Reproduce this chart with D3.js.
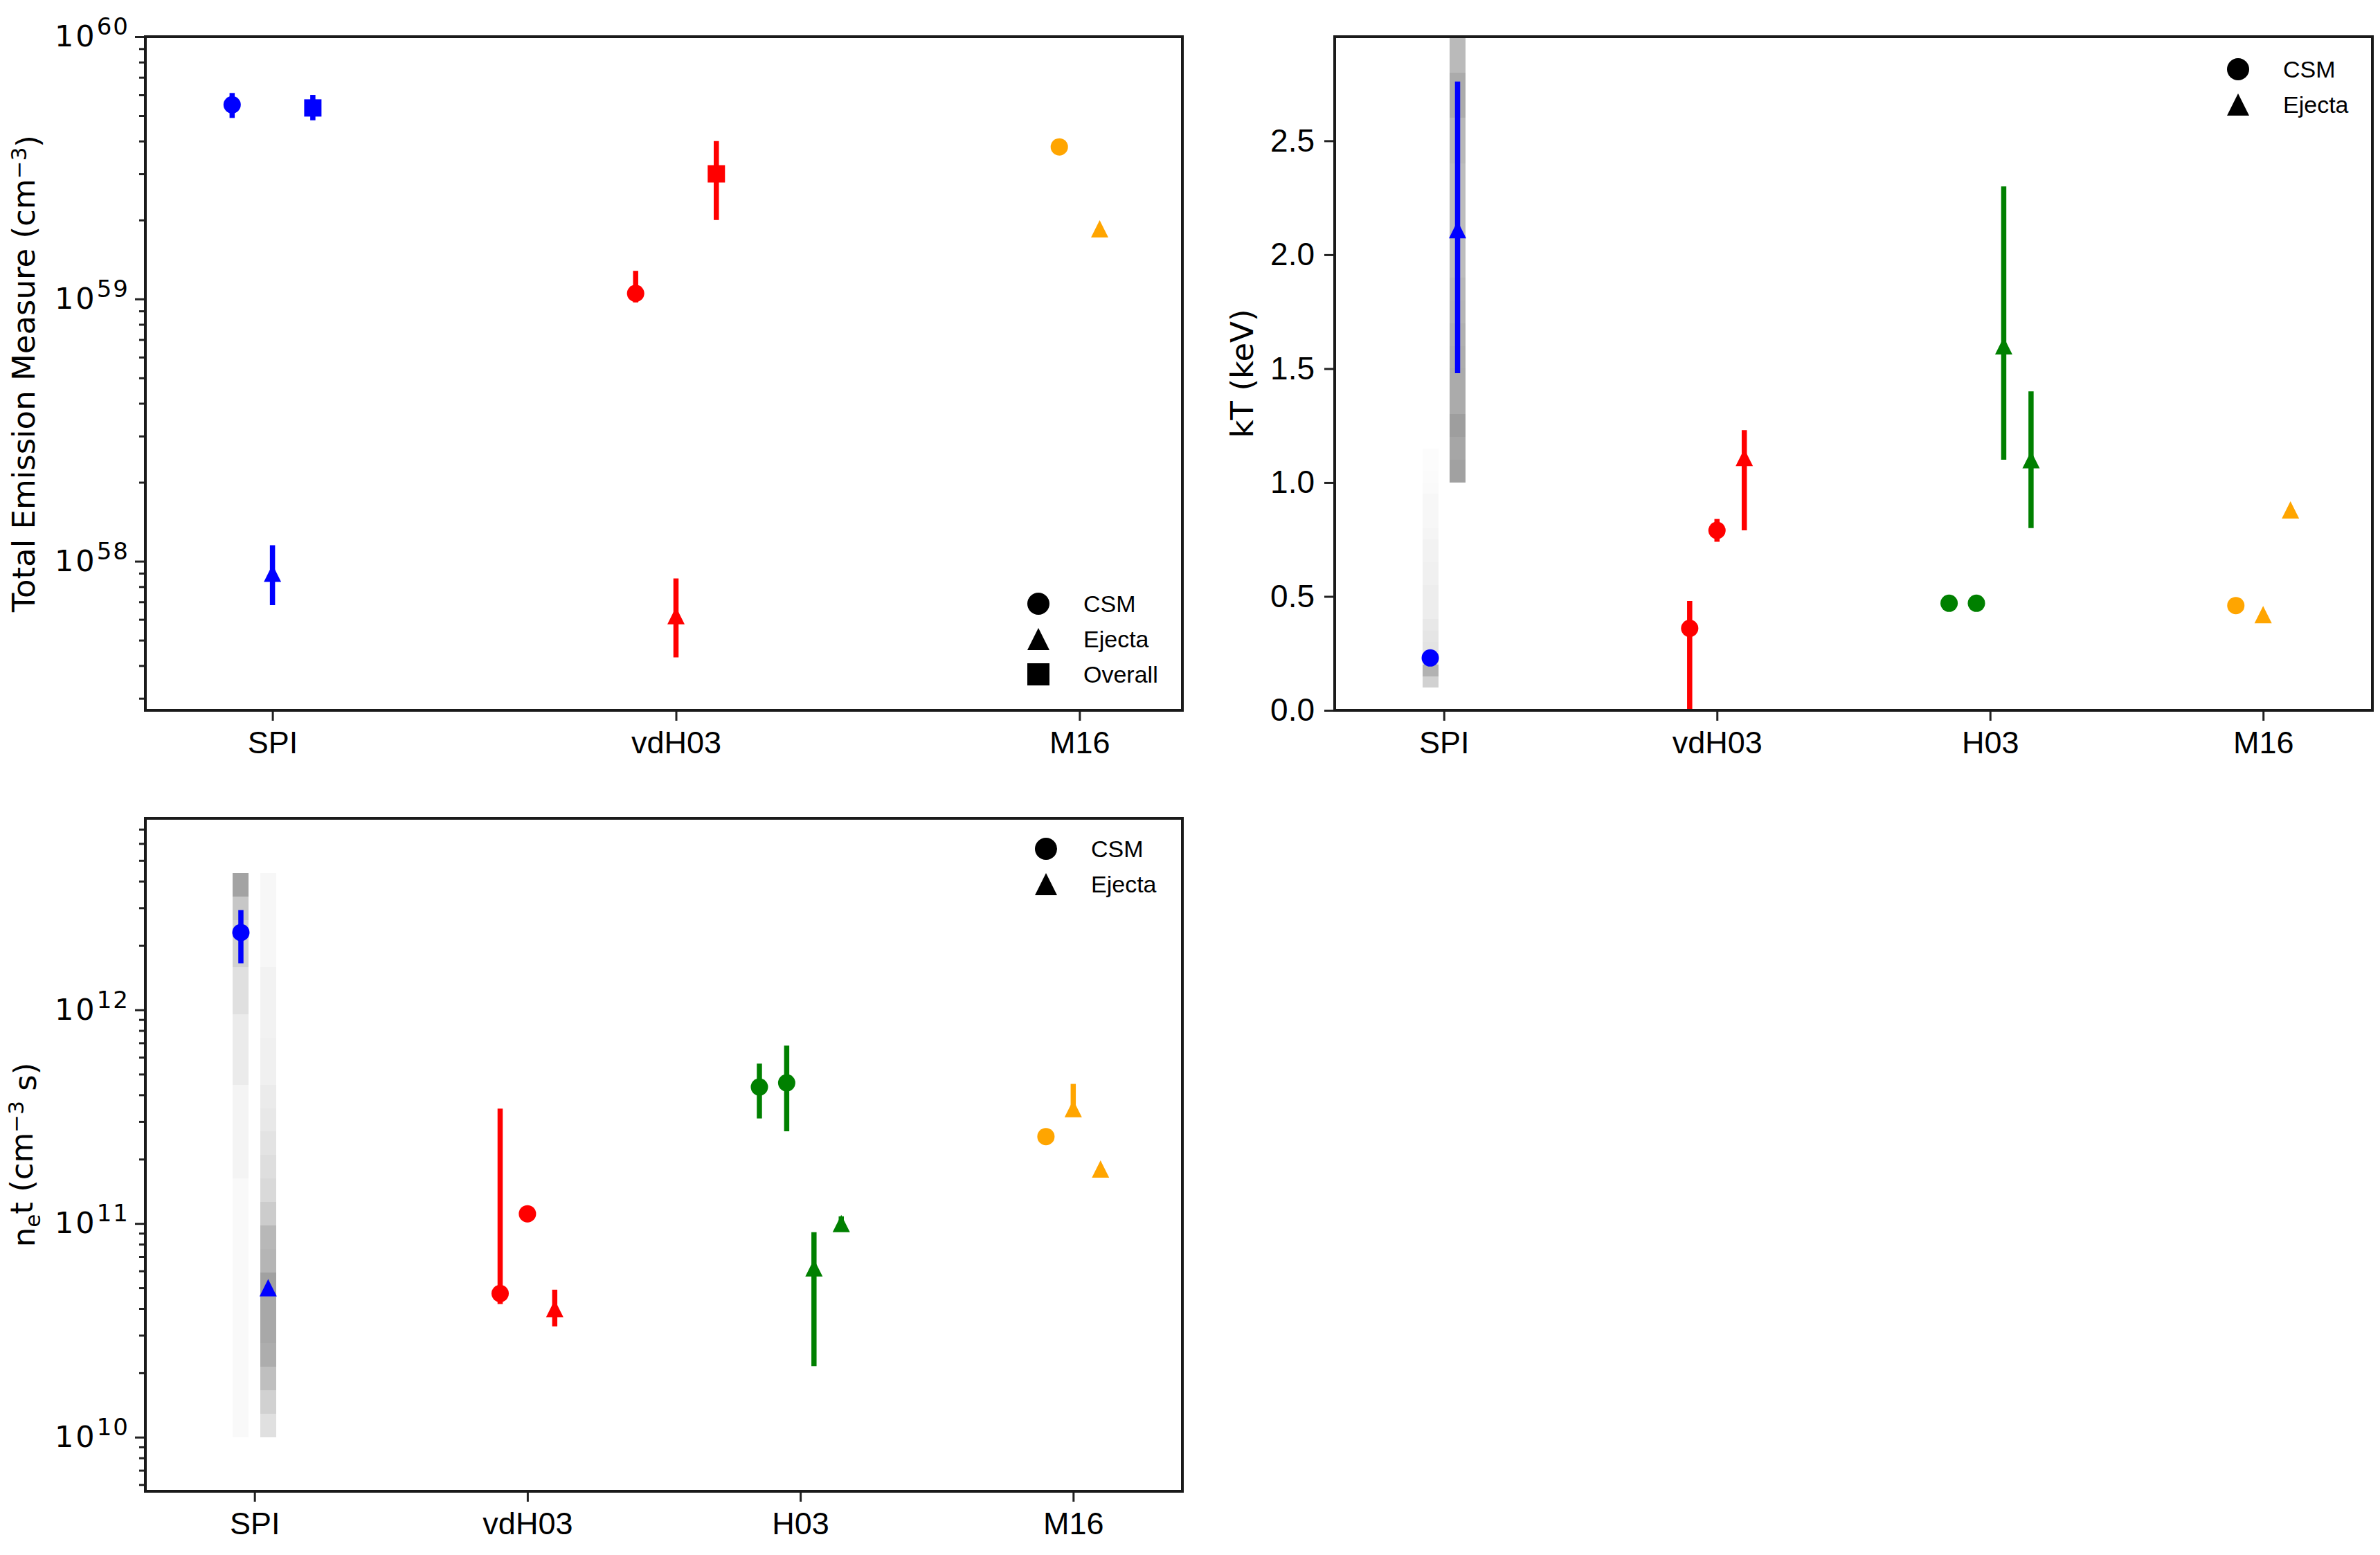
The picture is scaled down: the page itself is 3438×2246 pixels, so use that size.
<!DOCTYPE html>
<html>
<head>
<meta charset="utf-8">
<script src="https://cdn.jsdelivr.net/npm/d3@7"></script>
<style>
  body { margin: 0; background: #fff; }
</style>
</head>
<body>
<div id="fig"></div>
<script>
// ---------------- data ----------------
// rows: [category, component, value, lower bound, upper bound] (null = no error bar)

// Total emission measure (cm^-3)
const emCategories = ["SPI", "vdH03", "M16"];
const emRows = [
  ["SPI",   "CSM",     5.5e59,  4.9e59,  6.1e59],
  ["SPI",   "Ejecta",  9.0e57,  6.8e57,  1.15e58],
  ["SPI",   "Overall", 5.35e59, 4.8e59,  6.0e59],
  ["vdH03", "CSM",     1.05e59, 0.97e59, 1.28e59],
  ["vdH03", "Ejecta",  6.2e57,  4.3e57,  8.6e57],
  ["vdH03", "Overall", 3.0e59,  2.0e59,  4.0e59],
  ["M16",   "CSM",     3.8e59,  null,    null],
  ["M16",   "Ejecta",  1.85e59, null,    null]
];

// kT (keV)
const ktCategories = ["SPI", "vdH03", "H03", "M16"];
const ktRows = [
  ["SPI",   "CSM",    0.23, null, null],
  ["SPI",   "Ejecta", 2.11, 1.48, 2.76],
  ["vdH03", "CSM",    0.36, -0.1, 0.48],
  ["vdH03", "CSM",    0.79, 0.74, 0.84],
  ["vdH03", "Ejecta", 1.11, 0.79, 1.23],
  ["H03",   "CSM",    0.47, 0.45, 0.49],
  ["H03",   "CSM",    0.47, 0.45, 0.49],
  ["H03",   "Ejecta", 1.60, 1.10, 2.30],
  ["H03",   "Ejecta", 1.10, 0.80, 1.40],
  ["M16",   "CSM",    0.46, null, null],
  ["M16",   "Ejecta", 0.42, null, null],
  ["M16",   "Ejecta", 0.88, null, null]
];

// n_e t (cm^-3 s)
const netCategories = ["SPI", "vdH03", "H03", "M16"];
const netRows = [
  ["SPI",   "CSM",    2.3e12,  1.65e12, 2.93e12],
  ["SPI",   "Ejecta", 5.0e10,  null,    null],
  ["vdH03", "CSM",    4.7e10,  4.2e10,  3.45e11],
  ["vdH03", "CSM",    1.11e11, null,    null],
  ["vdH03", "Ejecta", 4.0e10,  3.3e10,  4.9e10],
  ["H03",   "CSM",    4.35e11, 3.1e11,  5.6e11],
  ["H03",   "CSM",    4.55e11, 2.7e11,  6.8e11],
  ["H03",   "Ejecta", 6.2e10,  2.15e10, 9.1e10],
  ["H03",   "Ejecta", 1.0e11,  0.95e11, 1.08e11],
  ["M16",   "CSM",    2.55e11, null,    null],
  ["M16",   "Ejecta", 3.45e11, 3.2e11,  4.5e11],
  ["M16",   "Ejecta", 1.8e11,  null,    null]
];

// SPI posterior strips (bin edges bottom-up, grey darkness per bin)
const ktCsmEdges = [0.10, 0.15, 0.20, 0.25, 0.30, 0.35, 0.40, 0.45, 0.50, 0.55, 0.60,
                    0.65, 0.70, 0.75, 0.80, 0.85, 0.90, 0.95, 1.00, 1.05, 1.10, 1.15];
const ktCsmShade = [0.18, 0.30, 0.14, 0.11, 0.10, 0.09, 0.07, 0.07, 0.07, 0.06, 0.06,
                    0.05, 0.05, 0.04, 0.03, 0.03, 0.03, 0.02, 0.015, 0.01, 0.01];
const ktEjEdges = [1.0, 1.1, 1.2, 1.3, 1.4, 1.5, 1.6, 1.7, 1.8, 1.9, 2.0,
                   2.1, 2.2, 2.3, 2.4, 2.5, 2.6, 2.7, 2.8, 2.9, 3.0];
const ktEjShade = [0.37, 0.35, 0.38, 0.33, 0.33, 0.32, 0.31, 0.29, 0.28, 0.26,
                   0.26, 0.26, 0.26, 0.26, 0.28, 0.28, 0.33, 0.33, 0.27, 0.27];
// exponents of n_e t
const netEdgesExp = [10.00, 10.11, 10.22, 10.33, 10.44, 10.55, 10.66, 10.77, 10.88, 10.99,
                     11.10, 11.21, 11.32, 11.43, 11.54, 11.65, 11.76, 11.87, 11.98, 12.09,
                     12.20, 12.31, 12.42, 12.53, 12.64];
const netCsmShade = [0.025, 0.025, 0.025, 0.025, 0.025, 0.025, 0.025, 0.025, 0.025, 0.025,
                     0.025, 0.045, 0.045, 0.045, 0.045, 0.08, 0.08, 0.08, 0.12, 0.12,
                     0.18, 0.18, 0.22, 0.36];
const netEjShade = [0.12, 0.18, 0.25, 0.32, 0.34, 0.34, 0.37, 0.29, 0.28, 0.20,
                    0.15, 0.13, 0.11, 0.09, 0.08, 0.06, 0.06, 0.05, 0.05, 0.05,
                    0.03, 0.03, 0.03, 0.03];

// ---------------- figure ----------------
const W = 3438, H = 2246;
const colorOf = { SPI: "blue", vdH03: "red", H03: "green", M16: "orange" };
const tickFont = "'Liberation Sans', Arial, sans-serif";
const labelFont = "'DejaVu Sans', sans-serif";

const svg = d3.select("#fig")
  .append("svg")
  .attr("width", W)
  .attr("height", H)
  .style("background", "#fff");

function drawMarker(g, comp, cx, cy, fill, s) {
  if (comp === "CSM") {
    g.append("circle").attr("cx", cx).attr("cy", cy).attr("r", s / 2).attr("fill", fill);
  } else if (comp === "Ejecta") {
    g.append("path")
      .attr("d", `M${cx},${cy - s / 2}L${cx + s / 2},${cy + s / 2}L${cx - s / 2},${cy + s / 2}Z`)
      .attr("fill", fill);
  } else {
    g.append("rect").attr("x", cx - s / 2).attr("y", cy - s / 2)
      .attr("width", s).attr("height", s).attr("fill", fill);
  }
}

// dodge points inside a category: 0.1 apart, centred on the tick
function withDodge(rows) {
  const count = d3.rollup(rows, v => v.length, r => r[0]);
  const seen = new Map();
  return rows.map(r => {
    const i = seen.get(r[0]) || 0;
    seen.set(r[0], i + 1);
    return { cat: r[0], comp: r[1], v: r[2], lo: r[3], hi: r[4],
             dx: (i - (count.get(r[0]) - 1) / 2) * 0.1 };
  });
}

function panel(o) {
  const g = svg.append("g");
  const b = o.box;
  const x = d3.scaleLinear().domain(o.xDomain).range([b.x0, b.x1]);
  const y = (o.log ? d3.scaleLog() : d3.scaleLinear()).domain(o.yDomain).range([b.y1, b.y0]);
  const pts = withDodge(o.rows);
  const px = d => x(o.categories.indexOf(d.cat) + d.dx);

  const clipId = "clip" + o.id;
  svg.append("clipPath").attr("id", clipId)
    .append("rect").attr("x", b.x0).attr("y", b.y0)
    .attr("width", b.x1 - b.x0).attr("height", b.y1 - b.y0);
  const plot = g.append("g").attr("clip-path", `url(#${clipId})`);

  // grey posterior strips
  (o.bands || []).forEach(band => {
    const p = pts.filter(d => d.cat === band.cat && d.comp === band.comp)[0];
    const cx = px(p);
    band.shade.forEach((s, i) => {
      const ya = y(band.edges[i + 1]), yb = y(band.edges[i]);
      plot.append("rect")
        .attr("x", cx - 11.5).attr("width", 23)
        .attr("y", ya).attr("height", yb - ya)
        .attr("fill", "#000").attr("fill-opacity", s)
        .attr("shape-rendering", "crispEdges");
    });
  });

  // error bars then markers
  pts.forEach(d => {
    if (d.lo !== null) {
      plot.append("line")
        .attr("x1", px(d)).attr("x2", px(d))
        .attr("y1", y(o.log ? d.lo : Math.max(d.lo, o.yDomain[0] - 0.1))).attr("y2", y(d.hi))
        .attr("stroke", colorOf[d.cat]).attr("stroke-width", 7.5);
    }
  });
  pts.forEach(d => drawMarker(plot, d.comp, px(d), y(d.v), colorOf[d.cat], 25));

  // x axis
  const xAxis = g.append("g")
    .attr("transform", `translate(0,${b.y1})`)
    .call(d3.axisBottom(x)
      .tickValues(o.categories.map((c, i) => i))
      .tickFormat(i => o.categories[i])
      .tickSize(15).tickPadding(15).tickSizeOuter(0));
  xAxis.select(".domain").remove();

  // y axis
  let yAxis;
  if (o.log) {
    const lo = Math.floor(Math.log10(o.yDomain[0])), hi = Math.ceil(Math.log10(o.yDomain[1]));
    const major = [], minor = [];
    for (let e = lo; e <= hi; e++) {
      const v = Math.pow(10, e);
      if (v >= o.yDomain[0] * 0.999 && v <= o.yDomain[1] * 1.001) major.push(v);
      for (let k = 2; k <= 9; k++) {
        const m = k * v;
        if (m >= o.yDomain[0] && m <= o.yDomain[1]) minor.push(m);
      }
    }
    const yMinor = g.append("g").attr("transform", `translate(${b.x0},0)`)
      .call(d3.axisLeft(y).tickValues(minor).tickFormat("").tickSize(9).tickSizeOuter(0));
    yMinor.select(".domain").remove();
    yMinor.selectAll("line").attr("stroke", "#222").attr("stroke-width", 3);
    yAxis = g.append("g").attr("transform", `translate(${b.x0},0)`)
      .call(d3.axisLeft(y).tickValues(major).tickSize(15).tickPadding(8).tickSizeOuter(0));
    yAxis.selectAll("line").attr("stroke", "#222").attr("stroke-width", 3);
    yAxis.selectAll("text").each(function (v) {
      const t = d3.select(this).text(null)
        .attr("fill", "#000").attr("font-family", labelFont).attr("font-size", 43);
      t.append("tspan").attr("letter-spacing", 3).text("10");
      t.append("tspan").attr("dy", "-0.5em").attr("font-size", 34).attr("letter-spacing", 2)
        .text(Math.round(Math.log10(v)));
    });
  } else {
    yAxis = g.append("g").attr("transform", `translate(${b.x0},0)`)
      .call(d3.axisLeft(y).tickValues(o.yTicks).tickFormat(d3.format(".1f"))
        .tickSize(15).tickPadding(14).tickSizeOuter(0));
    yAxis.selectAll("line").attr("stroke", "#222").attr("stroke-width", 3);
    yAxis.selectAll("text").attr("fill", "#000").attr("font-family", tickFont).attr("font-size", 46);
  }
  yAxis.select(".domain").remove();

  xAxis.selectAll("line").attr("stroke", "#222").attr("stroke-width", 3);
  xAxis.selectAll("text").attr("fill", "#000").attr("font-family", tickFont).attr("font-size", 45);

  // frame
  g.append("rect")
    .attr("x", b.x0).attr("y", b.y0)
    .attr("width", b.x1 - b.x0).attr("height", b.y1 - b.y0)
    .attr("fill", "none").attr("stroke", "#1a1a1a").attr("stroke-width", 4);

  // y label
  const yl = g.append("text")
    .attr("transform", `translate(${o.ylabelX},${(b.y0 + b.y1) / 2}) rotate(-90)`)
    .attr("text-anchor", "middle")
    .attr("font-family", labelFont).attr("font-size", 45).attr("fill", "#000");
  o.ylabel(yl);

  // legend
  const L = o.legend;
  L.items.forEach((name, i) => {
    const ly = L.y + i * 51;
    drawMarker(g, name, b.x1 - L.right, ly, "#000", 32);
    g.append("text")
      .attr("x", b.x1 - L.right + 65).attr("y", ly)
      .attr("dy", "0.36em")
      .attr("font-family", tickFont).attr("font-size", 34).attr("fill", "#000")
      .text(name);
  });
}

// Total emission measure
panel({
  id: 1,
  box: { x0: 210, x1: 1708, y0: 53, y1: 1026 },
  categories: emCategories, rows: emRows,
  xDomain: [-0.315, 2.255], log: true, yDomain: [2.7e57, 1e60],
  ylabelX: 50,
  ylabel: t => {
    t.append("tspan").text("Total Emission Measure (cm");
    t.append("tspan").attr("dy", "-0.4em").attr("font-size", 31).text("\u22123");
    t.append("tspan").attr("dy", "0.4em").text(")");
  },
  legend: { items: ["CSM", "Ejecta", "Overall"], right: 208, y: 872 }
});

// kT
panel({
  id: 2,
  box: { x0: 1928, x1: 3427, y0: 53, y1: 1026 },
  categories: ktCategories, rows: ktRows,
  xDomain: [-0.4, 3.4], log: false, yDomain: [0, 2.957],
  yTicks: [0, 0.5, 1.0, 1.5, 2.0, 2.5],
  ylabelX: 1810,
  ylabel: t => t.text("kT (keV)"),
  bands: [
    { cat: "SPI", comp: "CSM", edges: ktCsmEdges, shade: ktCsmShade },
    { cat: "SPI", comp: "Ejecta", edges: ktEjEdges, shade: ktEjShade }
  ],
  legend: { items: ["CSM", "Ejecta"], right: 194, y: 100 }
});

// n_e t
panel({
  id: 3,
  box: { x0: 210, x1: 1708, y0: 1182, y1: 2154 },
  categories: netCategories, rows: netRows,
  xDomain: [-0.4, 3.4], log: true, yDomain: [5.58e9, 7.87e12],
  ylabelX: 50,
  ylabel: t => {
    t.append("tspan").text("n");
    t.append("tspan").attr("dy", "0.25em").attr("font-size", 31).text("e");
    t.append("tspan").attr("dy", "-0.25em").text("t (cm");
    t.append("tspan").attr("dy", "-0.4em").attr("font-size", 31).text("\u22123");
    t.append("tspan").attr("dy", "0.4em").text(" s)");
  },
  bands: [
    { cat: "SPI", comp: "CSM", edges: netEdgesExp.map(e => Math.pow(10, e)), shade: netCsmShade },
    { cat: "SPI", comp: "Ejecta", edges: netEdgesExp.map(e => Math.pow(10, e)), shade: netEjShade }
  ],
  legend: { items: ["CSM", "Ejecta"], right: 197, y: 1226 }
});
</script>
</body>
</html>
